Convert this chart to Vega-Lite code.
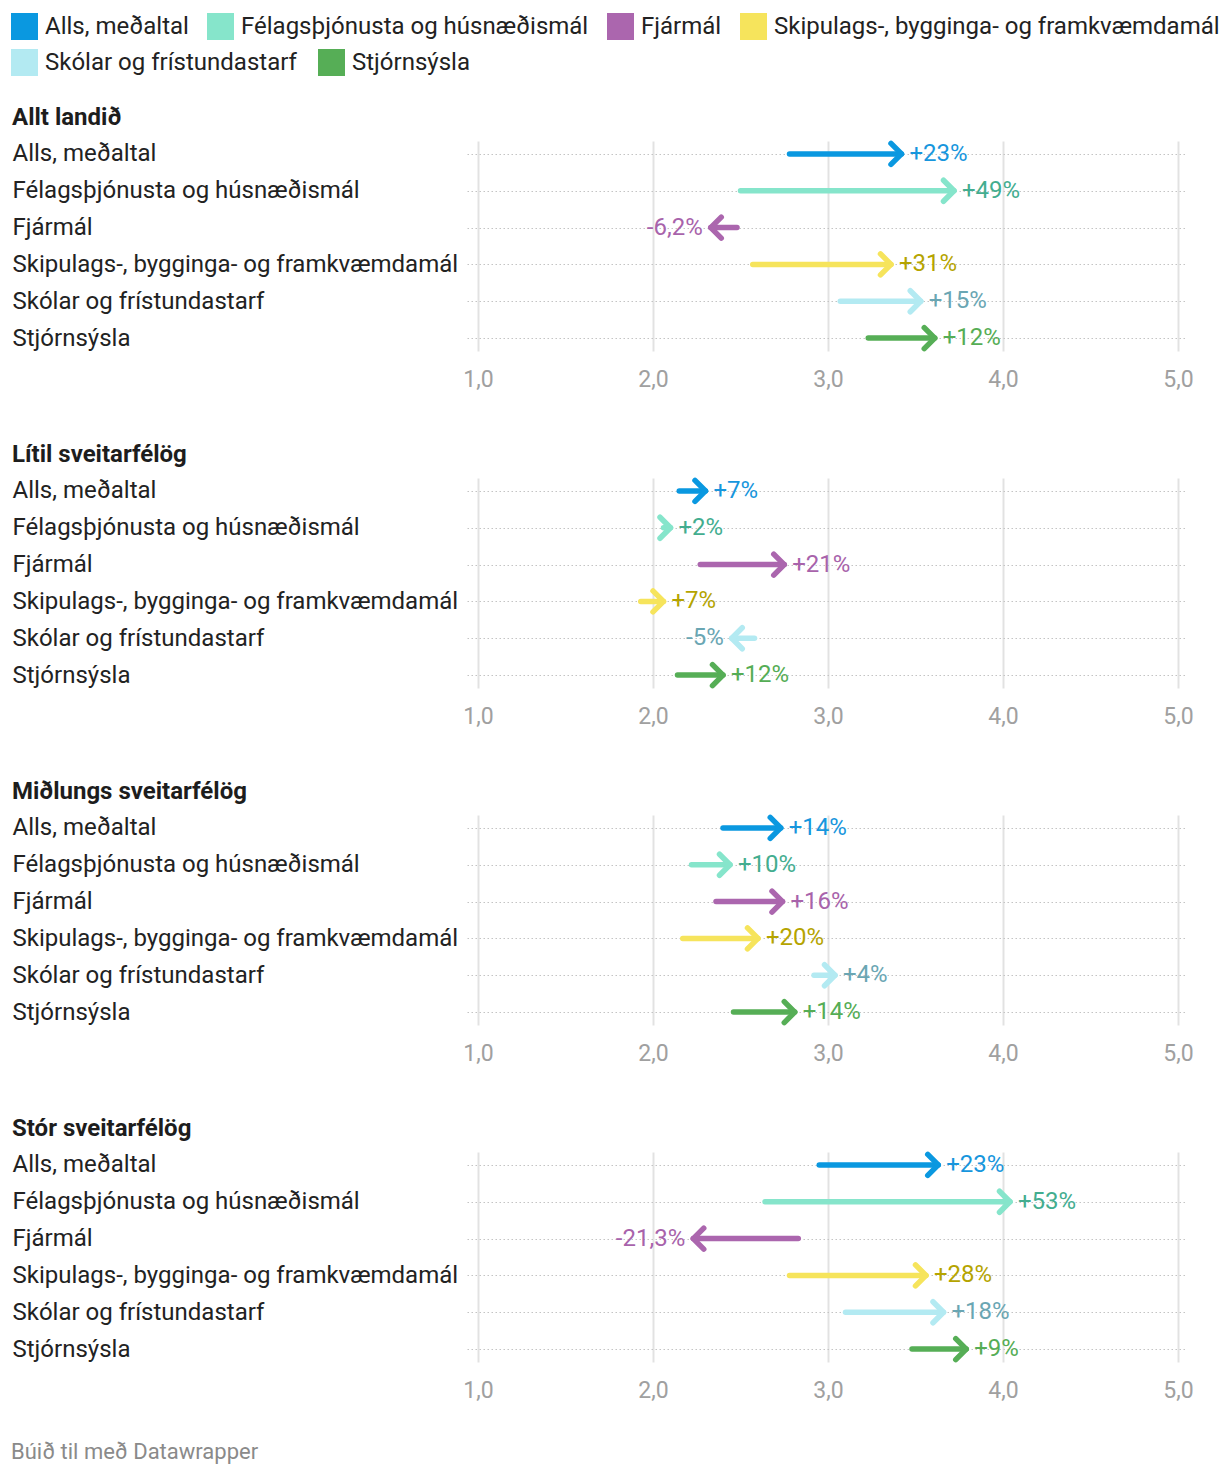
{
  "$schema": "https://vega.github.io/schema/vega-lite/v6.json",
  "padding": {"top": 13, "left": 11, "right": 2, "bottom": 12},
  "background": "#ffffff",
  "title": {"text": "Búið til með Datawrapper", "orient": "bottom", "anchor": "start", "frame": "bounds", "fontSize": 22, "font": "Roboto", "fontWeight": "normal", "color": "#8a8a8a", "offset": 40},
  "config": {
    "view": {"stroke": null},
    "font": "Roboto",
    "title": {"anchor": "start", "frame": "bounds", "fontSize": 24, "fontWeight": "bold", "color": "#1d1d1d", "offset": 11, "font": "Roboto"},
    "legend": {"title": null, "labelFontSize": 24, "labelFont": "Roboto", "labelColor": "#222222", "symbolType": "square", "symbolSize": 729, "symbolStrokeWidth": 0, "symbolOpacity": 1, "columnPadding": 18, "rowPadding": 9, "labelLimit": 600, "labelOffset": 7},
    "axisY": {"title": null, "domain": false, "ticks": false, "labelAlign": "left", "labelPadding": 455, "labelFontSize": 24, "labelFont": "Roboto", "labelColor": "#222222", "labelLimit": 470, "grid": true, "gridDash": [1.5, 2.5], "gridColor": "#c4c4c4", "gridWidth": 1.2},
    "axisX": {"title": null, "domain": false, "ticks": false, "grid": true, "gridColor": "#e2e2e2", "gridWidth": 2, "labelColor": "#a0a0a0", "labelFontSize": 23, "labelFont": "Roboto", "labelPadding": 17, "labelFlush": false}
  },
  "data": {"values": [
    {"g": "Allt landið", "cat": "Alls, meðaltal", "start": 2.78, "end": 3.42, "label": "+23%"},
    {"g": "Allt landið", "cat": "Félagsþjónusta og húsnæðismál", "start": 2.50, "end": 3.72, "label": "+49%"},
    {"g": "Allt landið", "cat": "Fjármál", "start": 2.48, "end": 2.33, "label": "-6,2%"},
    {"g": "Allt landið", "cat": "Skipulags-, bygginga- og framkvæmdamál", "start": 2.57, "end": 3.36, "label": "+31%"},
    {"g": "Allt landið", "cat": "Skólar og frístundastarf", "start": 3.07, "end": 3.53, "label": "+15%"},
    {"g": "Allt landið", "cat": "Stjórnsýsla", "start": 3.23, "end": 3.61, "label": "+12%"},
    {"g": "Lítil sveitarfélög", "cat": "Alls, meðaltal", "start": 2.15, "end": 2.30, "label": "+7%"},
    {"g": "Lítil sveitarfélög", "cat": "Félagsþjónusta og húsnæðismál", "start": 2.06, "end": 2.10, "label": "+2%"},
    {"g": "Lítil sveitarfélög", "cat": "Fjármál", "start": 2.27, "end": 2.75, "label": "+21%"},
    {"g": "Lítil sveitarfélög", "cat": "Skipulags-, bygginga- og framkvæmdamál", "start": 1.93, "end": 2.06, "label": "+7%"},
    {"g": "Lítil sveitarfélög", "cat": "Skólar og frístundastarf", "start": 2.58, "end": 2.45, "label": "-5%"},
    {"g": "Lítil sveitarfélög", "cat": "Stjórnsýsla", "start": 2.14, "end": 2.40, "label": "+12%"},
    {"g": "Miðlungs sveitarfélög", "cat": "Alls, meðaltal", "start": 2.40, "end": 2.73, "label": "+14%"},
    {"g": "Miðlungs sveitarfélög", "cat": "Félagsþjónusta og húsnæðismál", "start": 2.22, "end": 2.44, "label": "+10%"},
    {"g": "Miðlungs sveitarfélög", "cat": "Fjármál", "start": 2.36, "end": 2.74, "label": "+16%"},
    {"g": "Miðlungs sveitarfélög", "cat": "Skipulags-, bygginga- og framkvæmdamál", "start": 2.17, "end": 2.60, "label": "+20%"},
    {"g": "Miðlungs sveitarfélög", "cat": "Skólar og frístundastarf", "start": 2.92, "end": 3.04, "label": "+4%"},
    {"g": "Miðlungs sveitarfélög", "cat": "Stjórnsýsla", "start": 2.46, "end": 2.81, "label": "+14%"},
    {"g": "Stór sveitarfélög", "cat": "Alls, meðaltal", "start": 2.95, "end": 3.63, "label": "+23%"},
    {"g": "Stór sveitarfélög", "cat": "Félagsþjónusta og húsnæðismál", "start": 2.64, "end": 4.04, "label": "+53%"},
    {"g": "Stór sveitarfélög", "cat": "Fjármál", "start": 2.83, "end": 2.23, "label": "-21,3%"},
    {"g": "Stór sveitarfélög", "cat": "Skipulags-, bygginga- og framkvæmdamál", "start": 2.78, "end": 3.56, "label": "+28%"},
    {"g": "Stór sveitarfélög", "cat": "Skólar og frístundastarf", "start": 3.10, "end": 3.66, "label": "+18%"},
    {"g": "Stór sveitarfélög", "cat": "Stjórnsýsla", "start": 3.48, "end": 3.79, "label": "+9%"}
  ]},
  "resolve": {"scale": {"color": "shared", "stroke": "shared"}},
  "spacing": 51,
  "vconcat": [
    {
      "title": "Allt landið",
      "transform": [{"filter": {"field": "g", "equal": "Allt landið"}}],
      "width": 720, "height": 210,
      "encoding": {"y": {"field": "cat", "type": "nominal", "scale": {"type": "point", "padding": 0.35, "domain": ["Alls, meðaltal", "Félagsþjónusta og húsnæðismál", "Fjármál", "Skipulags-, bygginga- og framkvæmdamál", "Skólar og frístundastarf", "Stjórnsýsla"]}}},
      "layer": [
        {"mark": {"type": "rule", "strokeWidth": 5.5, "strokeCap": "round"},
         "encoding": {
           "x": {"field": "start", "type": "quantitative", "scale": {"domain": [0.9371, 5.0514], "nice": false, "zero": false}, "axis": {"values": [1, 2, 3, 4, 5], "labelExpr": "replace(format(datum.value, '.1f'), '.', ',')"}},
           "x2": {"field": "end"},
           "color": {"field": "cat", "type": "nominal", "scale": {"domain": ["Alls, meðaltal", "Félagsþjónusta og húsnæðismál", "Fjármál", "Skipulags-, bygginga- og framkvæmdamál", "Skólar og frístundastarf", "Stjórnsýsla"], "range": ["#0a98e0", "#86e5cb", "#ab66ae", "#f6e45c", "#b3eaf2", "#56ae56"]},
             "legend": {"orient": "none", "legendX": -456, "legendY": -128, "direction": "horizontal", "values": ["Alls, meðaltal", "Félagsþjónusta og húsnæðismál", "Fjármál", "Skipulags-, bygginga- og framkvæmdamál"],
               "encode": {"symbols": {"update": {"fill": {"scale": "color", "field": "value"}, "strokeWidth": {"value": 0}, "shape": {"value": "square"}, "opacity": {"value": 1}}}}}}
         }},
        {"mark": {"type": "point", "filled": false, "strokeWidth": 5.5, "opacity": 1, "size": 441, "strokeJoin": "round", "strokeCap": "round"},
         "encoding": {
           "x": {"field": "end", "type": "quantitative"},
           "stroke": {"field": "cat", "type": "nominal", "scale": {"domain": ["Skólar og frístundastarf", "Stjórnsýsla", "Alls, meðaltal", "Félagsþjónusta og húsnæðismál", "Fjármál", "Skipulags-, bygginga- og framkvæmdamál"], "range": ["#b3eaf2", "#56ae56", "#0a98e0", "#86e5cb", "#ab66ae", "#f6e45c"]},
             "legend": {"orient": "none", "legendX": -456, "legendY": -92, "direction": "horizontal", "values": ["Skólar og frístundastarf", "Stjórnsýsla"], "symbolSize": 1, "symbolStrokeWidth": 26, "symbolType": "square", "symbolOpacity": 1, "columnPadding": -18}},
           "shape": {"condition": {"test": "datum.end < datum.start", "value": "M1,-1L0,0L1,1"}, "value": "M-1,-1L0,0L-1,1"}
         }},
        {"transform": [{"filter": "datum.end >= datum.start"}],
         "mark": {"type": "text", "align": "left", "dx": 8, "fontSize": 24, "font": "Roboto",
           "fill": {"expr": "datum.cat === 'Alls, meðaltal' ? '#1796dd' : datum.cat === 'Félagsþjónusta og húsnæðismál' ? '#43ad8f' : datum.cat === 'Fjármál' ? '#a863ab' : datum.cat === 'Skipulags-, bygginga- og framkvæmdamál' ? '#b5a400' : datum.cat === 'Skólar og frístundastarf' ? '#6aa6b3' : '#55ad55'"}},
         "encoding": {"x": {"field": "end", "type": "quantitative"}, "text": {"field": "label"}}},
        {"transform": [{"filter": "datum.end < datum.start"}],
         "mark": {"type": "text", "align": "right", "dx": -8, "fontSize": 24, "font": "Roboto",
           "fill": {"expr": "datum.cat === 'Alls, meðaltal' ? '#1796dd' : datum.cat === 'Félagsþjónusta og húsnæðismál' ? '#43ad8f' : datum.cat === 'Fjármál' ? '#a863ab' : datum.cat === 'Skipulags-, bygginga- og framkvæmdamál' ? '#b5a400' : datum.cat === 'Skólar og frístundastarf' ? '#6aa6b3' : '#55ad55'"}},
         "encoding": {"x": {"field": "end", "type": "quantitative"}, "text": {"field": "label"}}}
      ]
    },
    {
      "title": "Lítil sveitarfélög",
      "transform": [{"filter": {"field": "g", "equal": "Lítil sveitarfélög"}}],
      "width": 720, "height": 210,
      "encoding": {"y": {"field": "cat", "type": "nominal", "scale": {"type": "point", "padding": 0.35, "domain": ["Alls, meðaltal", "Félagsþjónusta og húsnæðismál", "Fjármál", "Skipulags-, bygginga- og framkvæmdamál", "Skólar og frístundastarf", "Stjórnsýsla"]}}},
      "layer": [
        {"mark": {"type": "rule", "strokeWidth": 5.5, "strokeCap": "round"},
         "encoding": {
           "x": {"field": "start", "type": "quantitative", "scale": {"domain": [0.9371, 5.0514], "nice": false, "zero": false}, "axis": {"values": [1, 2, 3, 4, 5], "labelExpr": "replace(format(datum.value, '.1f'), '.', ',')"}},
           "x2": {"field": "end"},
           "color": {"field": "cat", "type": "nominal"}
         }},
        {"mark": {"type": "point", "filled": false, "strokeWidth": 5.5, "opacity": 1, "size": 441, "strokeJoin": "round", "strokeCap": "round"},
         "encoding": {
           "x": {"field": "end", "type": "quantitative"},
           "stroke": {"field": "cat", "type": "nominal"},
           "shape": {"condition": {"test": "datum.end < datum.start", "value": "M1,-1L0,0L1,1"}, "value": "M-1,-1L0,0L-1,1"}
         }},
        {"transform": [{"filter": "datum.end >= datum.start"}],
         "mark": {"type": "text", "align": "left", "dx": 8, "fontSize": 24, "font": "Roboto",
           "fill": {"expr": "datum.cat === 'Alls, meðaltal' ? '#1796dd' : datum.cat === 'Félagsþjónusta og húsnæðismál' ? '#43ad8f' : datum.cat === 'Fjármál' ? '#a863ab' : datum.cat === 'Skipulags-, bygginga- og framkvæmdamál' ? '#b5a400' : datum.cat === 'Skólar og frístundastarf' ? '#6aa6b3' : '#55ad55'"}},
         "encoding": {"x": {"field": "end", "type": "quantitative"}, "text": {"field": "label"}}},
        {"transform": [{"filter": "datum.end < datum.start"}],
         "mark": {"type": "text", "align": "right", "dx": -8, "fontSize": 24, "font": "Roboto",
           "fill": {"expr": "datum.cat === 'Alls, meðaltal' ? '#1796dd' : datum.cat === 'Félagsþjónusta og húsnæðismál' ? '#43ad8f' : datum.cat === 'Fjármál' ? '#a863ab' : datum.cat === 'Skipulags-, bygginga- og framkvæmdamál' ? '#b5a400' : datum.cat === 'Skólar og frístundastarf' ? '#6aa6b3' : '#55ad55'"}},
         "encoding": {"x": {"field": "end", "type": "quantitative"}, "text": {"field": "label"}}}
      ]
    },
    {
      "title": "Miðlungs sveitarfélög",
      "transform": [{"filter": {"field": "g", "equal": "Miðlungs sveitarfélög"}}],
      "width": 720, "height": 210,
      "encoding": {"y": {"field": "cat", "type": "nominal", "scale": {"type": "point", "padding": 0.35, "domain": ["Alls, meðaltal", "Félagsþjónusta og húsnæðismál", "Fjármál", "Skipulags-, bygginga- og framkvæmdamál", "Skólar og frístundastarf", "Stjórnsýsla"]}}},
      "layer": [
        {"mark": {"type": "rule", "strokeWidth": 5.5, "strokeCap": "round"},
         "encoding": {
           "x": {"field": "start", "type": "quantitative", "scale": {"domain": [0.9371, 5.0514], "nice": false, "zero": false}, "axis": {"values": [1, 2, 3, 4, 5], "labelExpr": "replace(format(datum.value, '.1f'), '.', ',')"}},
           "x2": {"field": "end"},
           "color": {"field": "cat", "type": "nominal"}
         }},
        {"mark": {"type": "point", "filled": false, "strokeWidth": 5.5, "opacity": 1, "size": 441, "strokeJoin": "round", "strokeCap": "round"},
         "encoding": {
           "x": {"field": "end", "type": "quantitative"},
           "stroke": {"field": "cat", "type": "nominal"},
           "shape": {"condition": {"test": "datum.end < datum.start", "value": "M1,-1L0,0L1,1"}, "value": "M-1,-1L0,0L-1,1"}
         }},
        {"transform": [{"filter": "datum.end >= datum.start"}],
         "mark": {"type": "text", "align": "left", "dx": 8, "fontSize": 24, "font": "Roboto",
           "fill": {"expr": "datum.cat === 'Alls, meðaltal' ? '#1796dd' : datum.cat === 'Félagsþjónusta og húsnæðismál' ? '#43ad8f' : datum.cat === 'Fjármál' ? '#a863ab' : datum.cat === 'Skipulags-, bygginga- og framkvæmdamál' ? '#b5a400' : datum.cat === 'Skólar og frístundastarf' ? '#6aa6b3' : '#55ad55'"}},
         "encoding": {"x": {"field": "end", "type": "quantitative"}, "text": {"field": "label"}}},
        {"transform": [{"filter": "datum.end < datum.start"}],
         "mark": {"type": "text", "align": "right", "dx": -8, "fontSize": 24, "font": "Roboto",
           "fill": {"expr": "datum.cat === 'Alls, meðaltal' ? '#1796dd' : datum.cat === 'Félagsþjónusta og húsnæðismál' ? '#43ad8f' : datum.cat === 'Fjármál' ? '#a863ab' : datum.cat === 'Skipulags-, bygginga- og framkvæmdamál' ? '#b5a400' : datum.cat === 'Skólar og frístundastarf' ? '#6aa6b3' : '#55ad55'"}},
         "encoding": {"x": {"field": "end", "type": "quantitative"}, "text": {"field": "label"}}}
      ]
    },
    {
      "title": "Stór sveitarfélög",
      "transform": [{"filter": {"field": "g", "equal": "Stór sveitarfélög"}}],
      "width": 720, "height": 210,
      "encoding": {"y": {"field": "cat", "type": "nominal", "scale": {"type": "point", "padding": 0.35, "domain": ["Alls, meðaltal", "Félagsþjónusta og húsnæðismál", "Fjármál", "Skipulags-, bygginga- og framkvæmdamál", "Skólar og frístundastarf", "Stjórnsýsla"]}}},
      "layer": [
        {"mark": {"type": "rule", "strokeWidth": 5.5, "strokeCap": "round"},
         "encoding": {
           "x": {"field": "start", "type": "quantitative", "scale": {"domain": [0.9371, 5.0514], "nice": false, "zero": false}, "axis": {"values": [1, 2, 3, 4, 5], "labelExpr": "replace(format(datum.value, '.1f'), '.', ',')"}},
           "x2": {"field": "end"},
           "color": {"field": "cat", "type": "nominal"}
         }},
        {"mark": {"type": "point", "filled": false, "strokeWidth": 5.5, "opacity": 1, "size": 441, "strokeJoin": "round", "strokeCap": "round"},
         "encoding": {
           "x": {"field": "end", "type": "quantitative"},
           "stroke": {"field": "cat", "type": "nominal"},
           "shape": {"condition": {"test": "datum.end < datum.start", "value": "M1,-1L0,0L1,1"}, "value": "M-1,-1L0,0L-1,1"}
         }},
        {"transform": [{"filter": "datum.end >= datum.start"}],
         "mark": {"type": "text", "align": "left", "dx": 8, "fontSize": 24, "font": "Roboto",
           "fill": {"expr": "datum.cat === 'Alls, meðaltal' ? '#1796dd' : datum.cat === 'Félagsþjónusta og húsnæðismál' ? '#43ad8f' : datum.cat === 'Fjármál' ? '#a863ab' : datum.cat === 'Skipulags-, bygginga- og framkvæmdamál' ? '#b5a400' : datum.cat === 'Skólar og frístundastarf' ? '#6aa6b3' : '#55ad55'"}},
         "encoding": {"x": {"field": "end", "type": "quantitative"}, "text": {"field": "label"}}},
        {"transform": [{"filter": "datum.end < datum.start"}],
         "mark": {"type": "text", "align": "right", "dx": -8, "fontSize": 24, "font": "Roboto",
           "fill": {"expr": "datum.cat === 'Alls, meðaltal' ? '#1796dd' : datum.cat === 'Félagsþjónusta og húsnæðismál' ? '#43ad8f' : datum.cat === 'Fjármál' ? '#a863ab' : datum.cat === 'Skipulags-, bygginga- og framkvæmdamál' ? '#b5a400' : datum.cat === 'Skólar og frístundastarf' ? '#6aa6b3' : '#55ad55'"}},
         "encoding": {"x": {"field": "end", "type": "quantitative"}, "text": {"field": "label"}}}
      ]
    }
  ]
}
